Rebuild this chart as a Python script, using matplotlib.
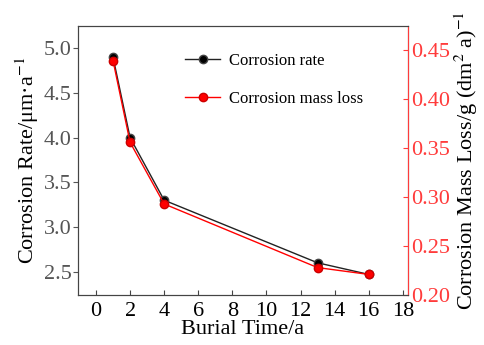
import numpy as np
import matplotlib
matplotlib.use('Agg')
import matplotlib.pyplot as plt

plt.rcParams['font.family'] = ['Liberation Serif', 'DejaVu Serif']
plt.rcParams['mathtext.fontset'] = 'stix'

years = [1, 2, 4, 13, 16]
rate = [4.90, 4.00, 3.30, 2.60, 2.47]
mass_loss = [0.4395, 0.356, 0.293, 0.228, 0.221]

red = '#ff3b3b'
fig = plt.figure(figsize=(4.85, 3.45), dpi=100)
ax = fig.add_axes([0.161, 0.145, 0.68, 0.78])
ax2 = ax.twinx()

l1, = ax.plot(years, rate, '-', color='#222222', lw=1.0, marker='o', ms=6,
              mfc='black', mec='#444444', label='Corrosion rate')
l2, = ax2.plot(years, mass_loss, '-', color='red', lw=1.0, marker='o', ms=6,
               mfc='red', mec='#cc0000', label='Corrosion mass loss')

ax.set_xlim(-1.05, 18.3)
ax.set_ylim(2.24, 5.25)
ax2.set_ylim(0.2, 0.475)
ax.set_xticks(np.arange(0, 19, 2))
ax.set_yticks([2.5, 3.0, 3.5, 4.0, 4.5, 5.0])
ax2.set_yticks([0.20, 0.25, 0.30, 0.35, 0.40, 0.45])

for s in ['left', 'bottom', 'top']:
    ax.spines[s].set_color('#444444')
    ax2.spines[s].set_color('#444444')
ax2.spines['right'].set_color(red)

ax.tick_params(axis='x', direction='in', labelsize=16, color='#444444', pad=5)
ax.tick_params(axis='y', direction='out', labelsize=16, colors='#555555', pad=1)
ax2.tick_params(axis='y', direction='in', labelsize=16, colors=red, pad=2)

ax.set_xlabel('Burial Time/a', fontsize=16, labelpad=-1)
ax.set_ylabel('Corrosion Rate/μm·a$^{-1}$', fontsize=16, labelpad=2)
ax2.set_ylabel('Corrosion Mass Loss/g (dm$^{2}$ a)$^{-1}$', fontsize=16, labelpad=2)

ax.legend([l1, l2], ['Corrosion rate', 'Corrosion mass loss'], loc='upper left',
          bbox_to_anchor=(0.28, 0.955), frameon=False, fontsize=12,
          labelspacing=1.3, handlelength=2.1, handletextpad=0.5)

fig.savefig('out.png', dpi=100)
